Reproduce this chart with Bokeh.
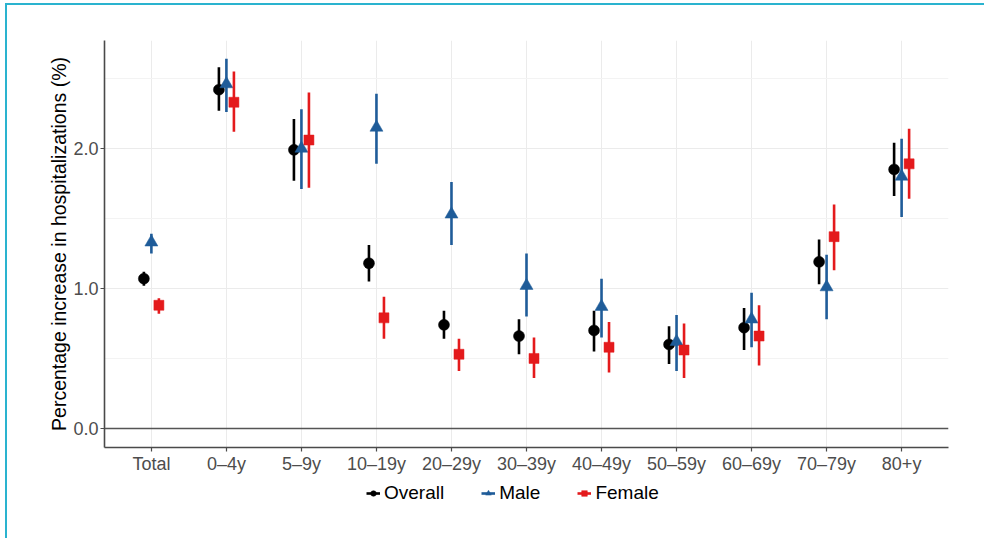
from bokeh.plotting import figure
from bokeh.layouts import column
from bokeh.models import (ColumnDataSource, FactorRange, Range1d, FixedTicker,
                          NumeralTickFormatter, Span, Legend, LegendItem)
from bokeh.transform import dodge
from bokeh.embed import file_html
from bokeh.resources import INLINE

categories = ["Total", "0\u20134y", "5\u20139y", "10\u201319y", "20\u201329y", "30\u201339y",
              "40\u201349y", "50\u201359y", "60\u201369y", "70\u201379y", "80+y"]

overall = [1.07, 2.42, 1.99, 1.18, 0.74, 0.66, 0.70, 0.60, 0.72, 1.19, 1.85]
overall_lo = [1.02, 2.27, 1.77, 1.05, 0.64, 0.53, 0.55, 0.46, 0.56, 1.03, 1.66]
overall_hi = [1.12, 2.58, 2.21, 1.31, 0.84, 0.78, 0.84, 0.73, 0.86, 1.35, 2.04]

male = [1.33, 2.46, 2.00, 2.15, 1.53, 1.02, 0.87, 0.62, 0.78, 1.01, 1.80]
male_lo = [1.25, 2.26, 1.71, 1.89, 1.31, 0.80, 0.65, 0.41, 0.58, 0.78, 1.51]
male_hi = [1.39, 2.64, 2.28, 2.39, 1.76, 1.25, 1.07, 0.81, 0.97, 1.24, 2.07]

female = [0.88, 2.33, 2.06, 0.79, 0.53, 0.50, 0.58, 0.56, 0.66, 1.37, 1.89]
female_lo = [0.82, 2.12, 1.72, 0.64, 0.41, 0.36, 0.40, 0.36, 0.45, 1.13, 1.64]
female_hi = [0.93, 2.55, 2.40, 0.94, 0.64, 0.65, 0.76, 0.75, 0.88, 1.60, 2.14]

series_names = ["Overall", "Male", "Female"]

y_ticks = [0, 1, 2]
y_minor = [0.5, 1.5, 2.5]

FONT = "Liberation Sans"
COLORS = ["black", "#1f5c99", "#e41a1c"]
MARKERS = ["circle", "triangle", "square"]
SIZES = [11, 13, 10]
OFFSETS = [-0.1, 0.0, 0.1]
KEYS = ["overall", "male", "female"]

p = figure(
    x_range=FactorRange(factors=categories, range_padding=0.125, range_padding_units="absolute"),
    y_range=Range1d(-0.136, 2.771),
    width=977, height=472, output_backend="svg", toolbar_location=None,
    min_border_left=97, min_border_top=35, min_border_right=36, min_border_bottom=30,
)
p.outline_line_color = None
p.background_fill_color = "white"

# grids
p.xgrid.grid_line_color = "#ebebeb"
p.xgrid.grid_line_width = 1
p.ygrid.grid_line_color = "#ebebeb"
p.ygrid.grid_line_width = 1
p.ygrid.minor_grid_line_color = "#f3f3f3"
p.ygrid.minor_grid_line_width = 1

# axes
p.yaxis.ticker = FixedTicker(ticks=y_ticks, minor_ticks=y_minor)
p.yaxis.formatter = NumeralTickFormatter(format="0.0")
for ax in (p.xaxis[0], p.yaxis[0]):
    ax.axis_line_color = "#4a4a4a"
    ax.axis_line_width = 1.6
    ax.major_tick_line_color = "#4a4a4a"
    ax.major_tick_line_width = 1.2
    ax.major_tick_out = 4
    ax.major_tick_in = 0
    ax.minor_tick_out = 0
    ax.minor_tick_in = 0
    ax.major_label_text_font = FONT
    ax.major_label_text_font_size = "18px"
    ax.major_label_text_color = "#4d4d4d"
    ax.major_label_standoff = 2
p.yaxis.axis_label = "Percentage increase in hospitalizations (%)"
p.yaxis.axis_label_text_font = FONT
p.yaxis.axis_label_text_font_size = "19.5px"
p.yaxis.axis_label_text_font_style = "normal"
p.yaxis.axis_label_text_color = "black"
p.yaxis.axis_label_standoff = 0

p.add_layout(Span(location=0, dimension="width", line_color="#555555", line_width=1.6))

src = ColumnDataSource(dict(cat=categories,
                            overall=overall, overall_lo=overall_lo, overall_hi=overall_hi,
                            male=male, male_lo=male_lo, male_hi=male_hi,
                            female=female, female_lo=female_lo, female_hi=female_hi))

for key, off, color, marker, size in zip(KEYS, OFFSETS, COLORS, MARKERS, SIZES):
    xd = dodge("cat", off, range=p.x_range)
    p.segment(x0=xd, y0=key + "_lo", x1=xd, y1=key + "_hi", source=src,
              line_color=color, line_width=2.6)
    p.scatter(x=xd, y=key, source=src, marker=marker, size=size,
              fill_color=color, line_color=color, line_width=0.5)

# legend strip below the chart (its frame is aligned with the chart's frame)
lf = figure(width=977, height=61, output_backend="svg", toolbar_location=None,
            x_range=Range1d(0, 1), y_range=Range1d(0, 1),
            x_axis_type=None, y_axis_type=None,
            min_border_left=0, min_border_right=0, min_border_top=0, min_border_bottom=0)
lf.grid.visible = False
lf.outline_line_color = None
offscreen = ColumnDataSource(dict(x=[-10], y=[-10]))
items = []
for name, color, marker, size in zip(series_names, COLORS, MARKERS, SIZES):
    seg = lf.segment(x0="x", y0="y", x1="x", y1="y", source=offscreen,
                     line_color=color, line_width=2.6)
    sc = lf.scatter(x="x", y="y", source=offscreen, marker=marker, size=size,
                    fill_color=color, line_color=color, line_width=0.5)
    items.append(LegendItem(label=name, renderers=[seg, sc]))
legend = Legend(items=items, orientation="horizontal", location=(262, 34),
                label_text_font=FONT, label_text_font_size="19px", label_text_color="black",
                glyph_width=14, glyph_height=16, label_standoff=4, spacing=37,
                border_line_color=None, background_fill_alpha=0, padding=4, margin=0)
lf.add_layout(legend)

layout = column(p, lf, spacing=0,
                styles={"margin-left": "5px", "margin-top": "3px",
                        "border-left": "2px solid #2ab3cf", "border-top": "2px solid #2ab3cf"})

open("out.html", "w").write(file_html(layout, INLINE))
